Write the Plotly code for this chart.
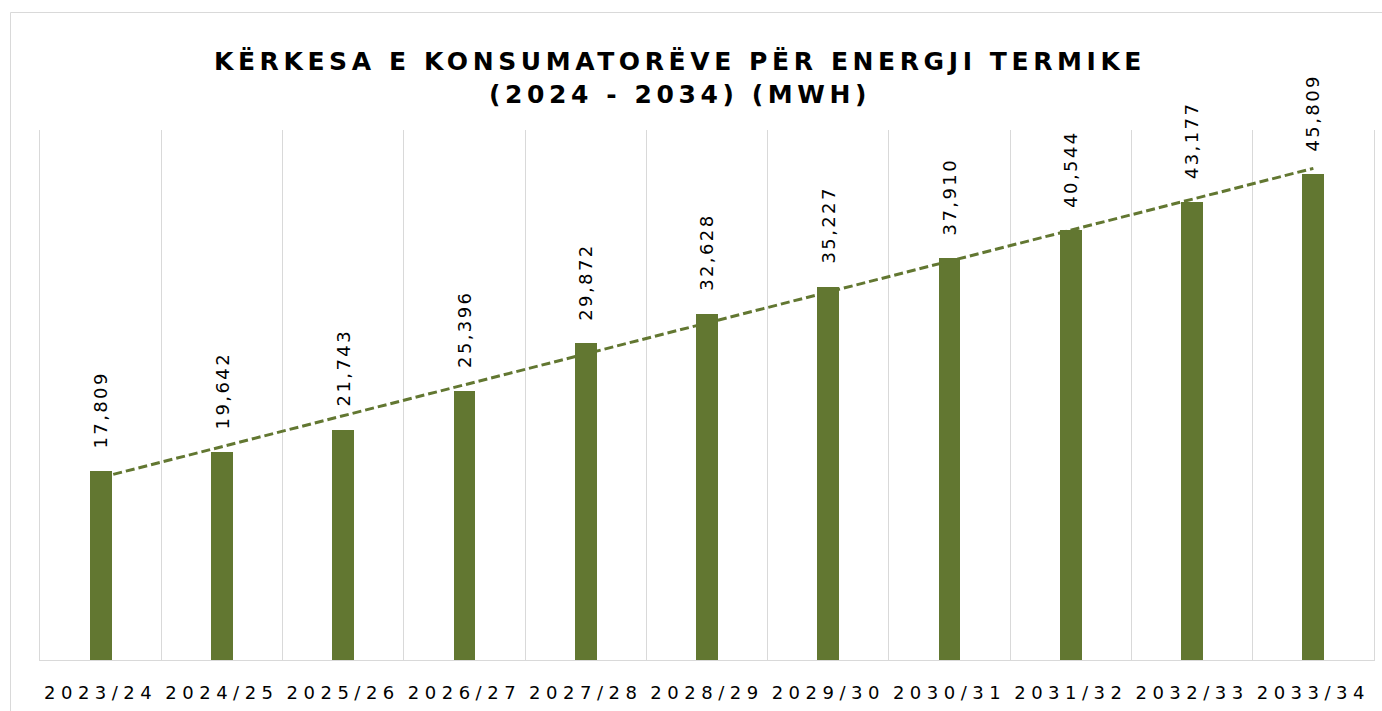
import numpy as np
import plotly.graph_objects as go

# ---- data ----
categories = ["2023/24", "2024/25", "2025/26", "2026/27", "2027/28", "2028/29",
              "2029/30", "2030/31", "2031/32", "2032/33", "2033/34"]
values = [17809, 19642, 21743, 25396, 29872, 32628, 35227, 37910, 40544, 43177, 45809]
title_line1 = "KËRKESA E KONSUMATORËVE PËR ENERGJI TERMIKE"
title_line2 = "(2024 - 2034) (MWH)"

# ---- style ----
W, H = 1382, 711
L, R, T, B = 40, 8, 130, 51
BAR_COLOR = "#627731"
GRID = "#D9D9D9"
FONT = "DejaVu Sans"

# linear trendline (like Excel's linear trendline)
idx = np.arange(1, len(values) + 1)
slope, intercept = np.polyfit(idx, values, 1)
trend = slope * idx + intercept

fig = go.Figure()
fig.add_trace(go.Scatter(
    x=categories, y=trend, mode="lines",
    line=dict(color=BAR_COLOR, width=3, dash="9px,4px"),
    hoverinfo="skip", showlegend=False, xaxis="x", yaxis="y"))
fig.add_trace(go.Bar(
    x=categories, y=values, marker=dict(color=BAR_COLOR, line=dict(width=0)),
    width=0.18, showlegend=False, xaxis="x2", yaxis="y2"))

for c, v in zip(categories, values):
    fig.add_annotation(x=c, y=v, xref="x", yref="y", text=f"{v:,}",
                       textangle=-90, showarrow=False, yanchor="bottom",
                       yshift=28, font=dict(family=FONT, size=18, color="#000000"))

pw = W - L - R
ph = H - T - B
fig.add_shape(type="rect", xref="paper", yref="paper",
              x0=(10.5 - L) / pw, x1=(1400 - L) / pw,
              y0=(H - T - 730) / ph, y1=(H - B - 12.5) / ph,
              line=dict(color=GRID, width=1), fillcolor="rgba(0,0,0,0)", layer="below")

yr = [0, 50000]
fig.update_layout(
    width=W, height=H,
    margin=dict(l=L, r=R, t=T, b=B),
    paper_bgcolor="white", plot_bgcolor="white",
    title=dict(text=title_line1 + "<br>" + title_line2,
               font=dict(family=FONT, size=25, weight="bold", color="#000000"),
               x=680 / W, xref="container", xanchor="center",
               y=1 - 70 / H, yref="container", yanchor="top"),
    xaxis=dict(type="category", categoryarray=categories, range=[-0.5, 10.5],
               tickson="boundaries", ticks="", showgrid=True, gridcolor=GRID, gridwidth=1,
               showline=True, linecolor=GRID, linewidth=1, zeroline=False,
               tickfont=dict(family=FONT, size=18, color="#000000"),
               ticklabelstandoff=16, fixedrange=True),
    yaxis=dict(range=yr, showticklabels=False, ticks="", showgrid=False, zeroline=False,
               showline=True, mirror=True, linecolor=GRID, linewidth=1, fixedrange=True),
    xaxis2=dict(type="category", categoryarray=categories, range=[-0.5, 10.5],
                overlaying="x", visible=False, showgrid=False),
    yaxis2=dict(range=yr, overlaying="y", visible=False, showgrid=False),
    bargap=0,
)

post = """
document.body.style.margin = '0px';
var gd = document.getElementById('{plot_id}');
gd.querySelectorAll('.gtitle').forEach(function(t){ t.style.letterSpacing = '4.6px'; });
gd.querySelectorAll('.xtick text').forEach(function(t){ t.style.letterSpacing = '5.5px'; });
gd.querySelectorAll('.annotation-text').forEach(function(t){ t.style.letterSpacing = '2.4px'; });
"""
fig.write_html("out.html", post_script=post, config={"displayModeBar": False})
